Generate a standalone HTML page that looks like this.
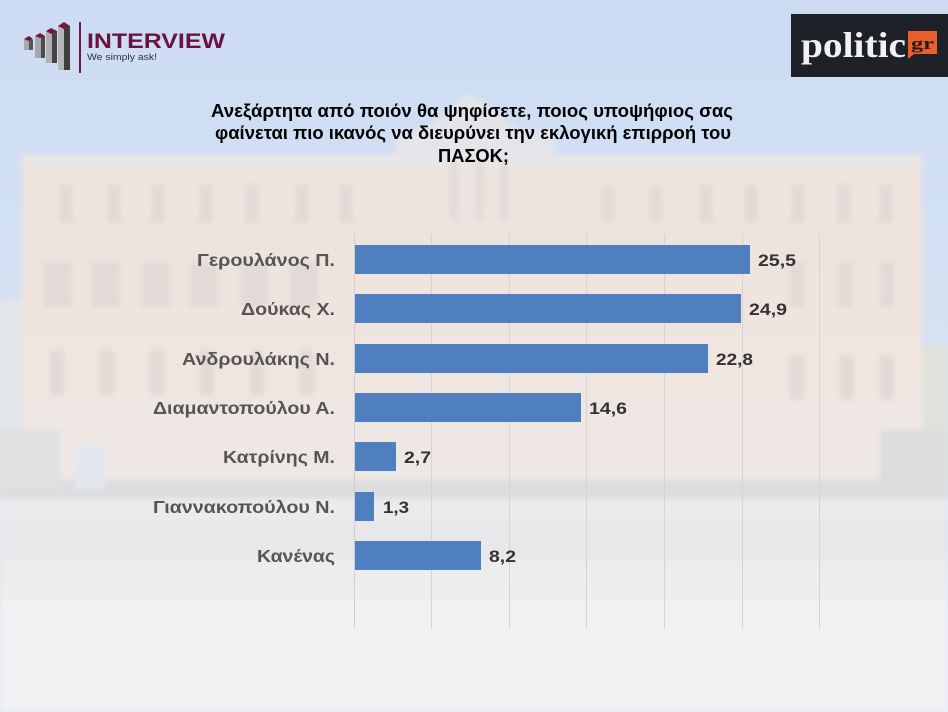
<!DOCTYPE html>
<html><head><meta charset="utf-8"><style>
html,body{margin:0;padding:0;background:#e9eaee;}
svg{display:block;}
text{font-family:"Liberation Sans",Arial,sans-serif;}
</style></head><body>
<svg width="948" height="712" viewBox="0 0 948 712" xmlns="http://www.w3.org/2000/svg">
<defs>
<linearGradient id="sky" x1="0" y1="0" x2="0" y2="1">
<stop offset="0" stop-color="#cddcf3"/><stop offset="0.5" stop-color="#d6e2f3"/><stop offset="1" stop-color="#dfe6f1"/>
</linearGradient>
<linearGradient id="bld" x1="0" y1="0" x2="0" y2="1">
<stop offset="0" stop-color="#ede2dd"/><stop offset="0.6" stop-color="#f0e5df"/><stop offset="1" stop-color="#ece8e6"/>
</linearGradient>
<linearGradient id="plaza" x1="0" y1="0" x2="0" y2="1">
<stop offset="0" stop-color="#eaeaec"/><stop offset="0.5" stop-color="#eeeef0"/><stop offset="1" stop-color="#f3f3f6"/>
</linearGradient>
<filter id="blur"><feGaussianBlur stdDeviation="2.5"/></filter>
</defs>
<!-- background -->
<rect width="948" height="712" fill="url(#sky)"/>
<g filter="url(#blur)">
<rect x="0" y="300" width="30" height="200" fill="#e4e6ea"/>
<rect x="918" y="345" width="30" height="150" fill="#dfe2dc"/>
<polygon points="400,150 470,92 545,150" fill="#e2e4ea"/>
<rect x="395" y="130" width="160" height="40" fill="#e4e5ea"/>
<rect x="22" y="155" width="900" height="340" fill="url(#bld)"/>
<rect x="22" y="155" width="900" height="14" fill="#ebe6e6"/>
<g fill="#e3d9d6">
<rect x="60" y="185" width="12" height="38"/><rect x="108" y="185" width="12" height="38"/><rect x="152" y="185" width="12" height="38"/>
<rect x="200" y="185" width="12" height="38"/><rect x="246" y="185" width="12" height="38"/><rect x="296" y="185" width="12" height="38"/>
<rect x="340" y="185" width="12" height="38"/><rect x="602" y="185" width="12" height="38"/><rect x="650" y="185" width="12" height="38"/>
<rect x="700" y="185" width="12" height="38"/><rect x="745" y="185" width="12" height="38"/><rect x="792" y="185" width="12" height="38"/>
<rect x="838" y="185" width="12" height="38"/><rect x="880" y="185" width="12" height="38"/>
<rect x="44" y="262" width="28" height="45"/><rect x="92" y="262" width="28" height="45"/><rect x="142" y="262" width="28" height="45"/>
<rect x="190" y="262" width="28" height="45"/><rect x="240" y="262" width="28" height="45"/><rect x="290" y="262" width="28" height="45"/>
<rect x="790" y="262" width="14" height="45"/><rect x="838" y="262" width="14" height="45"/><rect x="880" y="262" width="14" height="45"/>
<rect x="50" y="350" width="14" height="45"/><rect x="100" y="350" width="14" height="45"/><rect x="150" y="350" width="14" height="45"/>
<rect x="200" y="350" width="14" height="45"/><rect x="250" y="350" width="14" height="45"/><rect x="300" y="350" width="14" height="45"/>
<rect x="790" y="355" width="14" height="45"/><rect x="840" y="355" width="14" height="45"/><rect x="880" y="355" width="14" height="45"/>
</g>
<g fill="#e0dcdc">
<rect x="450" y="160" width="8" height="60"/><rect x="475" y="160" width="8" height="60"/><rect x="500" y="160" width="8" height="60"/>
</g>
<rect x="0" y="480" width="948" height="18" fill="#dddddf"/>
<rect x="0" y="498" width="948" height="214" fill="url(#plaza)"/>
<rect x="0" y="430" width="60" height="60" fill="#dfe1e0"/>
<rect x="75" y="445" width="30" height="45" fill="#e3e6ee"/>
<rect x="880" y="430" width="68" height="60" fill="#dcdedb"/>
<rect x="0" y="520" width="948" height="40" fill="#e8e8eb"/>
<rect x="0" y="600" width="948" height="112" fill="#f1f1f4"/>
</g>

<!-- INTERVIEW logo -->
<g>
<polygon points="24,39 29,36 33,39 33,50 24,50" fill="#a9a9a9"/>
<polygon points="24,39 29,36 33,39 29,41" fill="#6e1a3f"/>
<rect x="29" y="40" width="4" height="10" fill="#555"/>
<rect x="35" y="36" width="10" height="22" fill="#a8a8a8"/>
<rect x="41" y="36" width="4" height="22" fill="#4a4a4a"/>
<polygon points="35,36 40,33 45,36 40,38" fill="#6e1a3f"/>
<rect x="46" y="31" width="11" height="32" fill="#b0b0b0"/>
<rect x="52" y="31" width="5" height="32" fill="#444"/>
<polygon points="46,31 51,28 57,31 51,34" fill="#6e1a3f"/>
<rect x="58" y="26" width="12" height="44" fill="#b5b5b5"/>
<rect x="64" y="26" width="6" height="44" fill="#3d3d3d"/>
<polygon points="58,26 64,22 70,26 64,29" fill="#6e1a3f"/>
<rect x="79" y="22" width="2" height="51" fill="#6e1a3f"/>
<text x="87" y="48" font-size="21" font-weight="bold" fill="#6b1340" textLength="138" lengthAdjust="spacingAndGlyphs">INTERVIEW</text>
<text x="87" y="60" font-size="9" fill="#333" textLength="70" lengthAdjust="spacingAndGlyphs">We simply ask!</text>
</g>

<!-- politic logo -->
<g>
<rect x="791" y="14" width="157" height="63" fill="#1e2128"/>
<text x="801" y="57" font-size="36" font-weight="bold" fill="#f2f2f2" textLength="105" lengthAdjust="spacingAndGlyphs" style="font-family:'Liberation Serif',serif">politic</text>
<path d="M908,31 H937 V54 H914 L908,59 Z" fill="#e8612c"/>
<text x="911" y="49" font-size="17" font-weight="bold" fill="#2a1a12" textLength="23" lengthAdjust="spacingAndGlyphs" style="font-family:'Liberation Serif',serif">gr</text>
</g>

<!-- title -->
<g font-size="18" font-weight="bold" fill="#000">
<text x="211" y="117" textLength="522" lengthAdjust="spacingAndGlyphs">Ανεξάρτητα από ποιόν θα ψηφίσετε, ποιος υποψήφιος σας</text>
<text x="215" y="139" textLength="516" lengthAdjust="spacingAndGlyphs">φαίνεται πιο ικανός να διευρύνει την εκλογική επιρροή του</text>
<text x="438" y="162" textLength="71" lengthAdjust="spacingAndGlyphs">ΠΑΣΟΚ;</text>
</g>

<!-- gridlines -->
<g stroke="#d4d4d6" stroke-width="1">
<line x1="431.5" y1="234" x2="431.5" y2="629"/>
<line x1="509.5" y1="234" x2="509.5" y2="629"/>
<line x1="586.5" y1="234" x2="586.5" y2="629"/>
<line x1="664.5" y1="234" x2="664.5" y2="629"/>
<line x1="742.5" y1="234" x2="742.5" y2="629"/>
<line x1="819.5" y1="234" x2="819.5" y2="629"/>
</g>
<line x1="354.5" y1="234" x2="354.5" y2="629" stroke="#cfcfd2" stroke-width="1"/>

<!-- bars -->
<g fill="#4f7fbf">
<rect x="355" y="245" width="395" height="29"/>
<rect x="355" y="294" width="386" height="29"/>
<rect x="355" y="344" width="353" height="29"/>
<rect x="355" y="393" width="226" height="29"/>
<rect x="355" y="442" width="41" height="29"/>
<rect x="355" y="492" width="19" height="29"/>
<rect x="355" y="541" width="126" height="29"/>
</g>

<!-- category labels -->
<g font-size="17.5" font-weight="bold" fill="#555">
<text x="197" y="266" textLength="138" lengthAdjust="spacingAndGlyphs">Γερουλάνος Π.</text>
<text x="241" y="315" textLength="94" lengthAdjust="spacingAndGlyphs">Δούκας Χ.</text>
<text x="182" y="365" textLength="153" lengthAdjust="spacingAndGlyphs">Ανδρουλάκης Ν.</text>
<text x="153" y="414" textLength="182" lengthAdjust="spacingAndGlyphs">Διαμαντοπούλου Α.</text>
<text x="223" y="463" textLength="112" lengthAdjust="spacingAndGlyphs">Κατρίνης Μ.</text>
<text x="153" y="513" textLength="182" lengthAdjust="spacingAndGlyphs">Γιαννακοπούλου Ν.</text>
<text x="257" y="562" textLength="78" lengthAdjust="spacingAndGlyphs">Κανένας</text>
</g>

<!-- value labels -->
<g font-size="16.5" font-weight="bold" fill="#333">
<text x="758" y="266" textLength="38" lengthAdjust="spacingAndGlyphs">25,5</text>
<text x="749" y="315" textLength="38" lengthAdjust="spacingAndGlyphs">24,9</text>
<text x="716" y="365" textLength="37" lengthAdjust="spacingAndGlyphs">22,8</text>
<text x="589" y="414" textLength="38" lengthAdjust="spacingAndGlyphs">14,6</text>
<text x="404" y="463" textLength="27" lengthAdjust="spacingAndGlyphs">2,7</text>
<text x="383" y="513" textLength="26" lengthAdjust="spacingAndGlyphs">1,3</text>
<text x="489" y="562" textLength="27" lengthAdjust="spacingAndGlyphs">8,2</text>
</g>
</svg>
</body></html>
